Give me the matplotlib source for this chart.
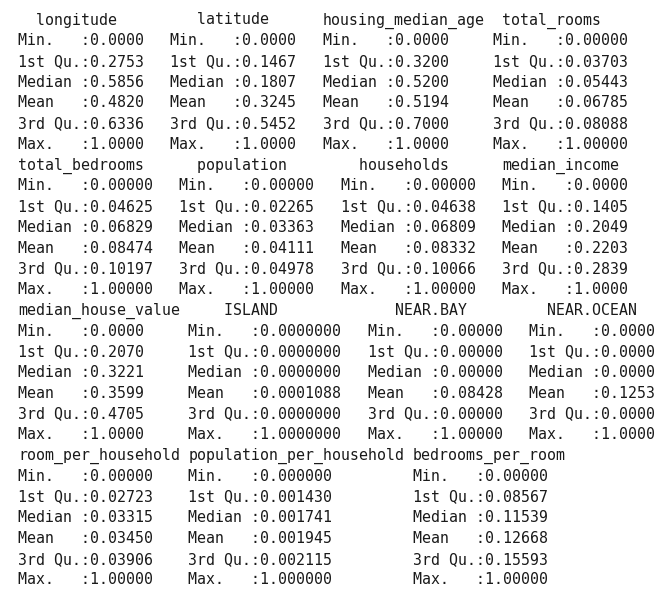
import math

import matplotlib

matplotlib.use("Agg")
import matplotlib.pyplot as plt

# R summary() output of the scaled housing data
stat_labels = ["Min.   ", "1st Qu.", "Median ", "Mean   ", "3rd Qu.", "Max.   "]

longitude = [0.0, 0.2753, 0.5856, 0.4820, 0.6336, 1.0]
latitude = [0.0, 0.1467, 0.1807, 0.3245, 0.5452, 1.0]
housing_median_age = [0.0, 0.3200, 0.5200, 0.5194, 0.7000, 1.0]
total_rooms = [0.0, 0.03703, 0.05443, 0.06785, 0.08088, 1.0]

total_bedrooms = [0.0, 0.04625, 0.06829, 0.08474, 0.10197, 1.0]
population = [0.0, 0.02265, 0.03363, 0.04111, 0.04978, 1.0]
households = [0.0, 0.04638, 0.06809, 0.08332, 0.10066, 1.0]
median_income = [0.0, 0.1405, 0.2049, 0.2203, 0.2839, 1.0]

median_house_value = [0.0, 0.2070, 0.3221, 0.3599, 0.4705, 1.0]
island = [0.0, 0.0, 0.0, 0.0001088, 0.0, 1.0]
near_bay = [0.0, 0.0, 0.0, 0.08428, 0.0, 1.0]
near_ocean = [0.0, 0.0, 0.0, 0.1253, 0.0, 1.0]

room_per_household = [0.0, 0.02723, 0.03315, 0.03450, 0.03906, 1.0]
population_per_household = [0.0, 0.001430, 0.001741, 0.001945, 0.002115, 1.0]
bedrooms_per_room = [0.0, 0.08567, 0.11539, 0.12668, 0.15593, 1.0]

# (column name, values, decimals) per printed block
blocks = [
    [("longitude", longitude, 4), ("latitude", latitude, 4),
     ("housing_median_age", housing_median_age, 4), ("total_rooms", total_rooms, 5)],
    [("total_bedrooms", total_bedrooms, 5), ("population", population, 5),
     ("households", households, 5), ("median_income", median_income, 4)],
    [("median_house_value", median_house_value, 4), ("ISLAND", island, 7),
     ("NEAR.BAY", near_bay, 5), ("NEAR.OCEAN", near_ocean, 4)],
    [("room_per_household", room_per_household, 5),
     ("population_per_household", population_per_household, 6),
     ("bedrooms_per_room", bedrooms_per_room, 5)],
]

W, H = 669, 591
CHAR_W = 8.97   # px per character
X0 = 9.0        # px of character 0
Y0 = 24.5       # baseline of first line, px from top
LINE_H = 20.74

fig = plt.figure(figsize=(W / 100, H / 100), dpi=100)
fig.patch.set_facecolor("white")


def put(text, col, row):
    fig.text((X0 + col * CHAR_W) / W, 1 - (Y0 + row * LINE_H) / H, text.rstrip(),
             family="DejaVu Sans Mono", fontsize=10.7, color="#1a1a1a",
             ha="left", va="baseline")


row = 0
for block in blocks:
    col = 1
    for name, vals, dec in block:
        pad = max(0, math.floor(7 - len(name) / 2))
        header = " " * pad + name
        cells = [lab + ":" + f"{v:.{dec}f}" + "  " for lab, v in zip(stat_labels, vals)]
        width = max(len(header), max(len(c) for c in cells))
        put(header, col, row)
        for i, c in enumerate(cells):
            put(c, col, row + 1 + i)
        col += width + 1
    row += 7

fig.savefig("out.png", dpi=100, facecolor="white")
